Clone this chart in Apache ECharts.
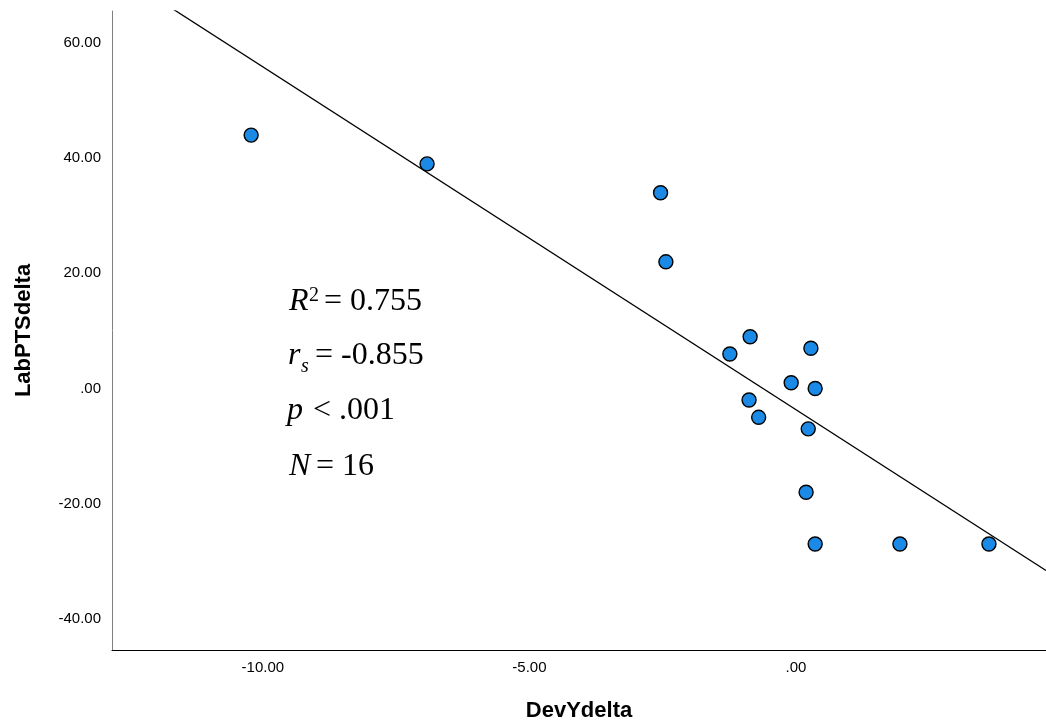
<!DOCTYPE html>
<html>
<head>
<meta charset="utf-8">
<script src="https://cdn.jsdelivr.net/npm/echarts@6/dist/echarts.min.js"></script>
<style>
  html, body { margin: 0; padding: 0; background: #fff; }
  #chart { width: 1046px; height: 722px; }
</style>
</head>
<body>
<div id="chart"></div>
<script>
// ---- data ----
const devYdelta = [-10.22, -6.92, -2.54, -2.44, -0.86, -1.24, 0.28, -0.09, 0.36, -0.88, -0.70, 0.23, 0.19, 0.36, 1.95, 3.62];
const labPTSdelta = [44, 39, 34, 22, 9, 6, 7, 1, 0, -2, -5, -7, -18, -27, -27, -27];
const fitSlope = -5.953;
const fitIntercept = -3.68;
const xRange = [-12.83, 4.69];
const yRange = [-45.4, 65.55];
const statsR2 = '0.755';
const statsRs = '-0.855';
const statsP = '< .001';
const statsN = '16';
const xTitle = 'DevYdelta';
const yTitle = 'LabPTSdelta';

const points = devYdelta.map((x, i) => [x, labPTSdelta[i]]);
const fitLine = xRange.map(x => [x, fitIntercept + fitSlope * x]);

function fmt(v) {
  return v.toFixed(2).replace(/^(-?)0\./, '$1.');
}

const chart = echarts.init(document.getElementById('chart'), null, { renderer: 'canvas' });
const serif = '"Liberation Serif", "Times New Roman", serif';
const sans = '"Liberation Sans", Arial, sans-serif';

function txt(x, y, text, font) {
  return {
    type: 'text', x: x, y: y, silent: true,
    style: { text: text, font: font, fill: '#000', textAlign: 'left', textVerticalAlign: 'middle' }
  };
}

chart.setOption({
  animation: false,
  backgroundColor: '#fff',
  grid: { left: 112, right: 0, top: 11, bottom: 72, containLabel: false, outerBoundsMode: 'none' },
  xAxis: {
    type: 'value', min: xRange[0], max: xRange[1], splitNumber: 4,
    name: xTitle, nameLocation: 'middle', nameGap: 50,
    nameTextStyle: { fontFamily: sans, fontWeight: 'bold', fontSize: 22, color: '#000' },
    axisLine: { show: true, onZero: false, lineStyle: { color: '#000', width: 1 } },
    axisTick: { show: false },
    splitLine: { show: false },
    axisLabel: { formatter: fmt, fontFamily: sans, fontSize: 15, color: '#000', margin: 10, showMinLabel: false, showMaxLabel: false }
  },
  yAxis: {
    type: 'value', min: yRange[0], max: yRange[1], splitNumber: 5,
    name: yTitle, nameLocation: 'middle', nameGap: 77,
    nameTextStyle: { fontFamily: sans, fontWeight: 'bold', fontSize: 22, color: '#000' },
    axisLine: { show: true, onZero: false, lineStyle: { color: '#808080', width: 1 } },
    axisTick: { show: false },
    splitLine: { show: false },
    axisLabel: { formatter: fmt, fontFamily: sans, fontSize: 15, color: '#000', margin: 11, showMinLabel: false, showMaxLabel: false }
  },
  series: [
    {
      type: 'line', data: fitLine, showSymbol: false, symbol: 'none', clip: true,
      lineStyle: { color: '#000', width: 1.3 }, silent: true, z: 2
    },
    {
      type: 'scatter', data: points, symbol: 'circle', symbolSize: 14,
      itemStyle: { color: '#1a8ae6', opacity: 1, borderColor: '#000', borderWidth: 1.4 }, z: 3
    }
  ],
  graphic: [
    txt(289, 302, 'R', 'italic 32px ' + serif),
    txt(309, 296, '2', '20px ' + serif),
    txt(324, 302, '= ' + statsR2, '32px ' + serif),
    txt(288, 356, 'r', 'italic 32px ' + serif),
    txt(301, 367, 's', 'italic 20px ' + serif),
    txt(315, 356, '= ' + statsRs, '32px ' + serif),
    txt(287, 411, 'p', 'italic 32px ' + serif),
    txt(313, 411, statsP, '32px ' + serif),
    txt(289, 467, 'N', 'italic 32px ' + serif),
    txt(316, 467, '= ' + statsN, '32px ' + serif)
  ]
});
</script>
</body>
</html>
